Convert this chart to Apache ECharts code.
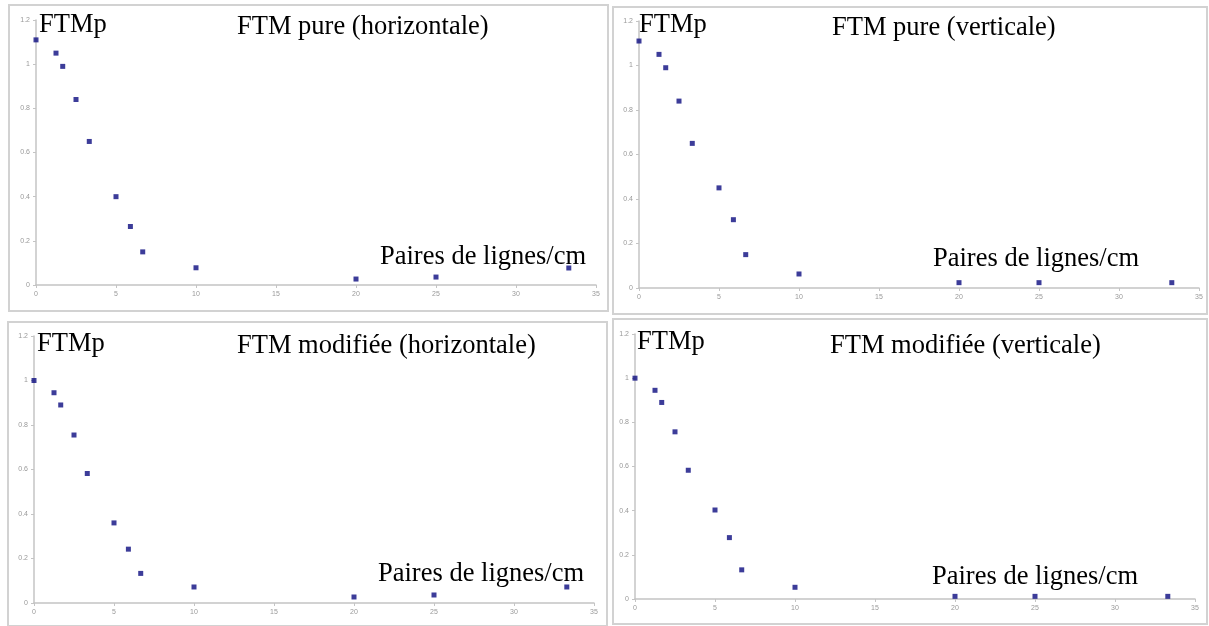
<!DOCTYPE html>
<html>
<head>
<meta charset="utf-8">
<title>FTM</title>
<script src="https://cdn.jsdelivr.net/npm/echarts@6/dist/echarts.min.js"></script>
<style>
  html, body { margin: 0; padding: 0; background: #fff; }
  #chart { width: 1209px; height: 626px; }
</style>
</head>
<body>
<div id="chart"></div>
<script>
// abscisses communes (paires de lignes/cm)
const xValues = [0, 1.25, 1.67, 2.5, 3.33, 5, 5.9, 6.67, 10, 20, 25, 33.3];
// FTM pure
const pureHorizontale = [1.11, 1.05, 0.99, 0.84, 0.65, 0.40, 0.265, 0.15, 0.078, 0.027, 0.036, 0.077];
const pureVerticale = [1.11, 1.05, 0.99, 0.84, 0.65, 0.45, 0.307, 0.15, 0.063, 0.024, 0.024, 0.024];
// FTM modifiée
const modHorizontale = [1.0, 0.945, 0.89, 0.755, 0.582, 0.36, 0.242, 0.133, 0.072, 0.027, 0.036, 0.072];
const modVerticale = [1.0, 0.945, 0.89, 0.757, 0.583, 0.403, 0.278, 0.132, 0.053, 0.012, 0.012, 0.012];

const titles = ["FTM pure (horizontale)", "FTM pure (verticale)", "FTM modifiée (horizontale)", "FTM modifiée (verticale)"];
const series = [pureHorizontale, pureVerticale, modHorizontale, modVerticale];
const yLabel = "FTMp";
const xLabel = "Paires de lignes/cm";

// zones des graphes
const grids = [
  { left: 36, top: 20, width: 560, height: 265 },
  { left: 639, top: 21, width: 560, height: 267 },
  { left: 34, top: 336, width: 560, height: 267 },
  { left: 635, top: 334, width: 560, height: 265 },
];
// cadres gris autour de chaque graphe
const frames = [
  { x: 9, y: 5, width: 599, height: 306 },
  { x: 613, y: 7, width: 594, height: 307 },
  { x: 8, y: 322, width: 599, height: 304 },
  { x: 613, y: 319, width: 594, height: 305 },
];
// positions des textes : [FTMp, titre, Paires de lignes/cm]
const textPos = [
  [[39, 12], [237, 14], [380, 244]],
  [[639, 12], [832, 15], [933, 246]],
  [[37, 331], [237, 333], [378, 561]],
  [[637, 329], [830, 333], [932, 564]],
];

const font = "26.5px 'Liberation Serif', 'Times New Roman', serif";

function pairs(ys) {
  return xValues.map((x, i) => [x, ys[i]]);
}

function axisCommon() {
  return {
    axisLine: { show: true, onZero: false, lineStyle: { color: "#c4c4c4", width: 1.5 } },
    axisTick: { show: true, length: 3, lineStyle: { color: "#c4c4c4" } },
    axisLabel: { color: "#999", fontSize: 7, fontFamily: "Arial, sans-serif", margin: 6 },
    splitLine: { show: false },
  };
}

const graphic = [];
frames.forEach((f) => {
  graphic.push({
    type: "rect",
    shape: f,
    style: { fill: "none", stroke: "#d2d2d2", lineWidth: 2 },
    z: 0,
  });
});
textPos.forEach((p, i) => {
  [yLabel, titles[i], xLabel].forEach((t, k) => {
    graphic.push({
      type: "text",
      x: p[k][0],
      y: p[k][1],
      style: { text: t, font: font, fill: "#000" },
      z: 100,
    });
  });
});

const option = {
  animation: false,
  backgroundColor: "#fff",
  grid: grids,
  xAxis: grids.map((g, i) =>
    Object.assign(axisCommon(), {
      type: "value",
      gridIndex: i,
      min: 0,
      max: 35,
      interval: 5,
    })
  ),
  yAxis: grids.map((g, i) =>
    Object.assign(axisCommon(), {
      type: "value",
      gridIndex: i,
      min: 0,
      max: 1.2,
      interval: 0.2,
    })
  ),
  series: series.map((ys, i) => ({
    name: titles[i],
    type: "scatter",
    xAxisIndex: i,
    yAxisIndex: i,
    symbol: "rect",
    symbolSize: 5,
    itemStyle: { color: "#0b0b80" },
    data: pairs(ys),
  })),
  graphic: graphic,
};

const chart = echarts.init(document.getElementById("chart"));
chart.setOption(option);
</script>
</body>
</html>
